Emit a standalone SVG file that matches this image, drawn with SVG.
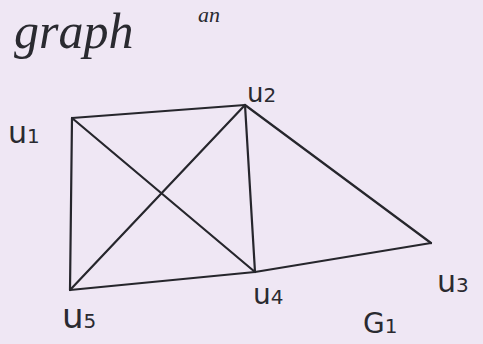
<svg xmlns="http://www.w3.org/2000/svg" width="483" height="344" viewBox="0 0 483 344">
<style>
.e{stroke:#26262c;stroke-width:2.2;stroke-linecap:round;fill:none}
.t{font-family:"DejaVu Sans","Liberation Sans",sans-serif;fill:#2a2a30;font-size:30px}
.h{font-family:"Liberation Serif",serif;font-style:italic;fill:#2a2a30}
.s{font-size:20px}
</style>
<rect width="483" height="344" fill="#efe7f4"/>
<text class="h" x="14" y="48" style="font-size:50px">graph</text>
<text class="h" x="198" y="22" style="font-size:22px">an</text>
<g id="edges">
<line class="e" x1="72" y1="118" x2="245" y2="105"/>
<line class="e" x1="72" y1="118" x2="70" y2="290"/>
<line class="e" x1="72" y1="118" x2="255" y2="272"/>
<line class="e" x1="245" y1="105" x2="70" y2="290"/>
<line class="e" x1="245" y1="105" x2="255" y2="272"/>
<line class="e" x1="245" y1="105" x2="431" y2="243"/>
<line class="e" x1="431" y1="243" x2="255" y2="272"/>
<line class="e" x1="70" y1="290" x2="255" y2="272"/>
</g>
<g id="u1"><text class="t" x="8" y="143">u<tspan class="s">1</tspan></text></g>
<g id="u2"><text class="t" x="247" y="102" style="font-size:26px">u<tspan class="s">2</tspan></text></g>
<g id="u3"><text class="t" x="437" y="292">u<tspan class="s">3</tspan></text></g>
<g id="u4"><text class="t" x="253" y="304" style="font-size:28px">u<tspan class="s">4</tspan></text></g>
<g id="u5"><text class="t" x="62" y="328" style="font-size:34px">u<tspan class="s">5</tspan></text></g>
<g id="g1"><text class="t" x="363" y="333" style="font-size:28px">G<tspan class="s">1</tspan></text></g>
</svg>
